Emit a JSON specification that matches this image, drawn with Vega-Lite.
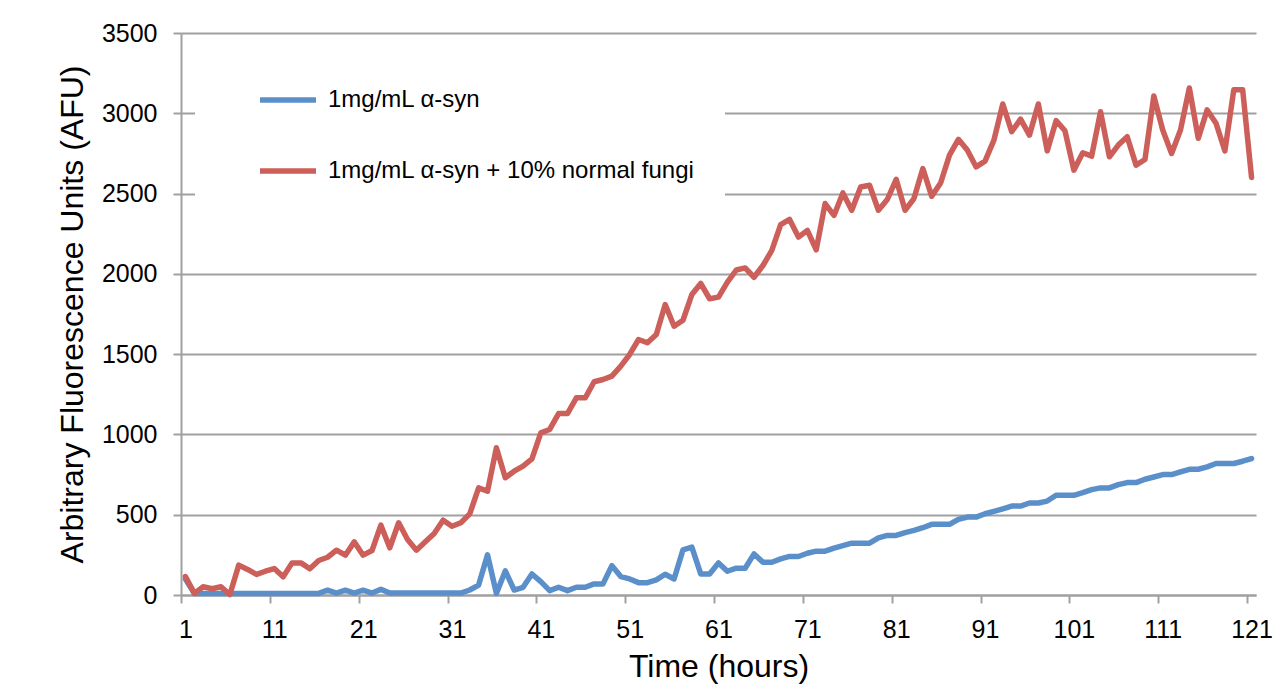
{
  "$schema": "https://vega.github.io/schema/vega-lite/v6.json",
  "autosize": "none",
  "width": 1075,
  "height": 562,
  "padding": {"left": 181, "top": 33, "right": 30, "bottom": 103},
  "background": "white",
  "config": {"font": "Liberation Sans", "view": {"stroke": null}},
  "data": {"values": [
    {"t":1,"a":100,"b":115},{"t":2,"a":10,"b":10},{"t":3,"a":10,"b":51},{"t":4,"a":10,"b":39},{"t":5,"a":10,"b":51},
    {"t":6,"a":10,"b":3},{"t":7,"a":10,"b":186},{"t":8,"a":10,"b":159},{"t":9,"a":10,"b":128},{"t":10,"a":10,"b":148},
    {"t":11,"a":10,"b":165},{"t":12,"a":10,"b":113},{"t":13,"a":10,"b":200},{"t":14,"a":10,"b":200},{"t":15,"a":10,"b":163},
    {"t":16,"a":10,"b":215},{"t":17,"a":30,"b":235},{"t":18,"a":12,"b":279},{"t":19,"a":30,"b":248},{"t":20,"a":12,"b":331},
    {"t":21,"a":30,"b":248},{"t":22,"a":12,"b":277},{"t":23,"a":35,"b":435},{"t":24,"a":12,"b":294},{"t":25,"a":12,"b":450},
    {"t":26,"a":12,"b":346},{"t":27,"a":12,"b":279},{"t":28,"a":12,"b":331},{"t":29,"a":12,"b":383},{"t":30,"a":12,"b":466},
    {"t":31,"a":12,"b":428},{"t":32,"a":12,"b":450},{"t":33,"a":31,"b":505},{"t":34,"a":62,"b":667},{"t":35,"a":250,"b":646},
    {"t":36,"a":10,"b":917},{"t":37,"a":150,"b":730},{"t":38,"a":31,"b":771},{"t":39,"a":48,"b":802},{"t":40,"a":131,"b":848},
    {"t":41,"a":83,"b":1010},{"t":42,"a":27,"b":1031},{"t":43,"a":48,"b":1130},{"t":44,"a":27,"b":1130},{"t":45,"a":48,"b":1228},
    {"t":46,"a":48,"b":1228},{"t":47,"a":69,"b":1328},{"t":48,"a":69,"b":1342},{"t":49,"a":183,"b":1363},{"t":50,"a":115,"b":1425},
    {"t":51,"a":100,"b":1498},{"t":52,"a":77,"b":1591},{"t":53,"a":77,"b":1571},{"t":54,"a":94,"b":1622},{"t":55,"a":129,"b":1809},
    {"t":56,"a":100,"b":1674},{"t":57,"a":281,"b":1711},{"t":58,"a":298,"b":1871},{"t":59,"a":131,"b":1940},{"t":60,"a":131,"b":1845},
    {"t":61,"a":200,"b":1855},{"t":62,"a":148,"b":1948},{"t":63,"a":167,"b":2024},{"t":64,"a":167,"b":2037},{"t":65,"a":256,"b":1979},
    {"t":66,"a":204,"b":2052},{"t":67,"a":204,"b":2146},{"t":68,"a":225,"b":2306},{"t":69,"a":240,"b":2339},{"t":70,"a":240,"b":2229},
    {"t":71,"a":260,"b":2271},{"t":72,"a":273,"b":2150},{"t":73,"a":273,"b":2438},{"t":74,"a":292,"b":2364},{"t":75,"a":308,"b":2504},
    {"t":76,"a":323,"b":2396},{"t":77,"a":323,"b":2541},{"t":78,"a":323,"b":2552},{"t":79,"a":356,"b":2396},{"t":80,"a":371,"b":2463},
    {"t":81,"a":371,"b":2589},{"t":82,"a":388,"b":2396},{"t":83,"a":402,"b":2469},{"t":84,"a":419,"b":2656},{"t":85,"a":440,"b":2483},
    {"t":86,"a":440,"b":2566},{"t":87,"a":440,"b":2739},{"t":88,"a":471,"b":2838},{"t":89,"a":485,"b":2771},{"t":90,"a":485,"b":2666},
    {"t":91,"a":506,"b":2702},{"t":92,"a":521,"b":2833},{"t":93,"a":537,"b":3058},{"t":94,"a":554,"b":2885},{"t":95,"a":554,"b":2964},
    {"t":96,"a":573,"b":2864},{"t":97,"a":573,"b":3058},{"t":98,"a":585,"b":2766},{"t":99,"a":621,"b":2954},{"t":100,"a":621,"b":2891},
    {"t":101,"a":621,"b":2646},{"t":102,"a":637,"b":2754},{"t":103,"a":656,"b":2733},{"t":104,"a":667,"b":3010},{"t":105,"a":667,"b":2729},
    {"t":106,"a":687,"b":2802},{"t":107,"a":700,"b":2854},{"t":108,"a":700,"b":2677},{"t":109,"a":721,"b":2712},{"t":110,"a":735,"b":3108},
    {"t":111,"a":750,"b":2896},{"t":112,"a":750,"b":2750},{"t":113,"a":767,"b":2896},{"t":114,"a":783,"b":3158},{"t":115,"a":783,"b":2844},
    {"t":116,"a":798,"b":3021},{"t":117,"a":819,"b":2938},{"t":118,"a":819,"b":2766},{"t":119,"a":819,"b":3146},{"t":120,"a":833,"b":3146},
    {"t":121,"a":850,"b":2600}
  ]},
  "transform": [{"fold": ["a", "b"], "as": ["series", "afu"]}],
  "mark": {"type": "line", "strokeWidth": 5.5, "strokeJoin": "round", "strokeCap": "round"},
  "encoding": {
    "x": {
      "field": "t", "type": "quantitative",
      "scale": {"domain": [0.5, 121.5], "nice": false, "zero": false},
      "axis": {
        "values": [1, 11, 21, 31, 41, 51, 61, 71, 81, 91, 101, 111, 121],
        "tickOffset": -4.44, "labelOffset": 4.44,
        "grid": false, "domainColor": "#a0a0a0", "domainWidth": 2,
        "tickColor": "#a0a0a0", "tickWidth": 2, "tickSize": 8,
        "labelFontSize": 25, "labelColor": "#000000", "labelPadding": 14, "labelFlush": false,
        "title": "Time (hours)", "titleFontSize": 32, "titleFontWeight": "normal", "titleColor": "#000000", "titlePadding": 9
      }
    },
    "y": {
      "field": "afu", "type": "quantitative",
      "scale": {"domain": [0, 3500], "nice": false},
      "axis": {
        "values": [0, 500, 1000, 1500, 2000, 2500, 3000, 3500],
        "format": "d",
        "grid": true, "gridColor": "#a0a0a0", "gridWidth": 2,
        "domainColor": "#a0a0a0", "domainWidth": 2,
        "tickColor": "#a0a0a0", "tickWidth": 2, "tickSize": 8,
        "labelFontSize": 25, "labelColor": "#000000", "labelPadding": 16,
        "title": "Arbitrary Fluorescence Units (AFU)", "titleFontSize": 32, "titleFontWeight": "normal", "titleColor": "#000000", "titlePadding": 12
      }
    },
    "color": {
      "field": "series", "type": "nominal",
      "scale": {"domain": ["a", "b"], "range": ["#5A8FCA", "#CC5F5A"]},
      "legend": {
        "title": null, "orient": "none", "legendX": 14, "legendY": 6,
        "fillColor": "white", "padding": 30, "symbolOffset": 32,
        "symbolType": "stroke", "symbolSize": 3136, "symbolStrokeWidth": 5.5,
        "labelFontSize": 24, "labelColor": "#000000", "labelOffset": 9, "rowPadding": 28,
        "labelLimit": 600,
        "labelExpr": "datum.value == 'a' ? '1mg/mL α-syn' : '1mg/mL α-syn + 10% normal fungi'"
      }
    }
  }
}
